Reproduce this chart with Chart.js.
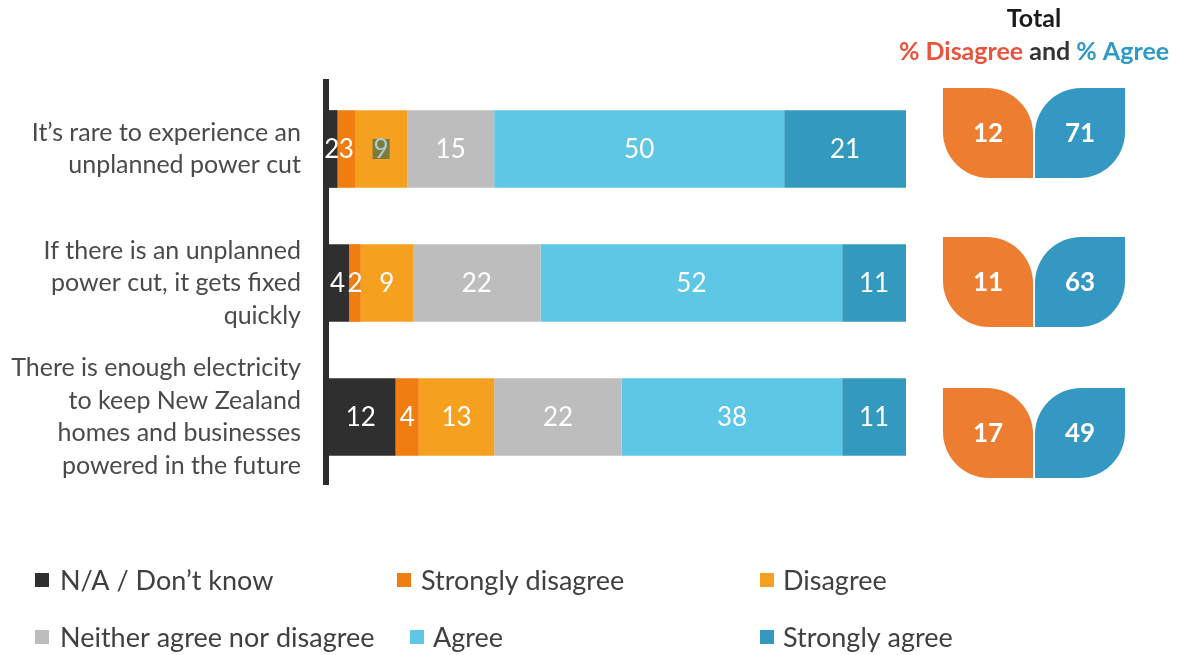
<!DOCTYPE html>
<html>
<head>
<meta charset="utf-8">
<title>Power supply attitudes</title>
<script src="https://cdn.jsdelivr.net/npm/chart.js@4.4.0/dist/chart.umd.min.js"></script>
<style>
    html, body { margin: 0; padding: 0; background: #ffffff; }
    #wrap { width: 1178px; height: 655px; }
</style>
</head>
<body>
<div id="wrap"><canvas id="myChart" width="1178" height="655"></canvas></div>
<script>
// statements (one per bar, already broken into lines)
var statements = [
    ["It\u2019s rare to experience an", "unplanned power cut"],
    ["If there is an unplanned", "power cut, it gets fixed", "quickly"],
    ["There is enough electricity", "to keep New Zealand", "homes and businesses", "powered in the future"]
];

// % of respondents per answer
var naDontKnow       = [2, 4, 12];
var stronglyDisagree = [3, 2, 4];
var disagree         = [9, 9, 13];
var neither          = [15, 22, 22];
var agree            = [50, 52, 38];
var stronglyAgree    = [21, 11, 11];

// totals shown in the leaves on the right
var totalDisagree = [12, 11, 17];
var totalAgree    = [71, 63, 49];

var FONT = "Lato";

// where each leaf pair sits relative to its bar
var leafShift = [-16, -1, 16];

// legend layout: one spot per dataset, in dataset order
var legendSpots = [
    { box: 35,  text: 60,  y: 580 },
    { box: 397, text: 421, y: 580 },
    { box: 760, text: 783, y: 580 },
    { box: 35,  text: 60,  y: 637 },
    { box: 410, text: 433, y: 637 },
    { box: 760, text: 783, y: 637 }
];

var barLabels = {
    id: 'barLabels',
    afterDatasetsDraw: function(chart) {
        var ctx = chart.ctx;
        ctx.save();
        ctx.font = '26px ' + FONT;
        ctx.textAlign = 'center';
        ctx.textBaseline = 'middle';
        chart.data.datasets.forEach(function(ds, di) {
            var meta = chart.getDatasetMeta(di);
            meta.data.forEach(function(bar, i) {
                var cx = (bar.x + bar.base) / 2;
                var txt = String(ds.data[i]);
                // the odd highlighted "9" on the first bar
                if (di === 2 && i === 0) {
                    var w = ctx.measureText(txt).width;
                    ctx.fillStyle = '#7d7a3c';
                    ctx.fillRect(cx - w / 2 - 1, bar.y - 10, w + 2, 20);
                    ctx.fillStyle = '#a9cbd3';
                } else {
                    ctx.fillStyle = '#ffffff';
                }
                ctx.fillText(txt, cx, bar.y + 1);
            });
        });
        ctx.restore();
    }
};

var totalsPanel = {
    id: 'totalsPanel',
    afterDraw: function(chart) {
        var ctx = chart.ctx;
        var area = chart.chartArea;
        var yScale = chart.scales.y;
        var midX = area.right + 128;
        ctx.save();

        // heading
        ctx.textBaseline = 'middle';
        ctx.font = 'bold 25px ' + FONT;
        ctx.textAlign = 'center';
        ctx.fillStyle = '#1a1a1a';
        ctx.fillText('Total', midX, 19);

        var parts = [
            { t: '% Disagree', c: '#e8553d' },
            { t: ' and ', c: '#333333' },
            { t: '% Agree', c: '#2f9ac6' }
        ];
        var full = 0;
        parts.forEach(function(p) { full += ctx.measureText(p.t).width; });
        var x = midX - full / 2;
        ctx.textAlign = 'left';
        parts.forEach(function(p) {
            ctx.fillStyle = p.c;
            ctx.fillText(p.t, x, 52);
            x += ctx.measureText(p.t).width;
        });

        // leaves
        var size = 90, r = 46;
        var leftX = area.right + 37;
        ctx.font = 'bold 26px ' + FONT;
        ctx.textAlign = 'center';
        totalDisagree.forEach(function(v, i) {
            var cy = yScale.getPixelForValue(i) + leafShift[i];
            var top = cy - size / 2;

            ctx.fillStyle = '#ed7d31';
            ctx.beginPath();
            ctx.roundRect(leftX, top, size, size, [0, r, 0, r]);
            ctx.fill();

            ctx.fillStyle = '#3598c3';
            ctx.beginPath();
            ctx.roundRect(leftX + size + 2, top, size, size, [r, 0, r, 0]);
            ctx.fill();

            ctx.fillStyle = '#ffffff';
            ctx.fillText(String(v), leftX + size / 2, cy + 1);
            ctx.fillText(String(totalAgree[i]), leftX + size + 2 + size / 2, cy + 1);
        });
        ctx.restore();
    }
};

var gridLegend = {
    id: 'gridLegend',
    afterDraw: function(chart) {
        var ctx = chart.ctx;
        ctx.save();
        ctx.font = '27px ' + FONT;
        ctx.textBaseline = 'middle';
        ctx.textAlign = 'left';
        chart.data.datasets.forEach(function(ds, di) {
            var spot = legendSpots[di];
            ctx.fillStyle = ds.backgroundColor;
            ctx.fillRect(spot.box, spot.y - 7, 14, 14);
            ctx.fillStyle = '#404040';
            ctx.fillText(ds.label, spot.text, spot.y + 1);
        });
        ctx.restore();
    }
};

function renderChart() {
    var ctx = document.getElementById('myChart').getContext('2d');

    var myChart = new Chart(ctx, {
        type: 'bar',
        data: {
            labels: statements,
            datasets: [
                { label: 'N/A / Don\u2019t know', data: naDontKnow, backgroundColor: '#2f2f2f' },
                { label: 'Strongly disagree', data: stronglyDisagree, backgroundColor: '#ef7d10' },
                { label: 'Disagree', data: disagree, backgroundColor: '#f5a11f' },
                { label: 'Neither agree nor disagree', data: neither, backgroundColor: '#bdbdbd' },
                { label: 'Agree', data: agree, backgroundColor: '#5dc7e5' },
                { label: 'Strongly agree', data: stronglyAgree, backgroundColor: '#3399bf' }
            ]
        },
        options: {
            indexAxis: 'y',
            responsive: false,
            animation: false,
            barPercentage: 0.58,
            categoryPercentage: 1.0,
            layout: {
                padding: { top: 82, right: 272, bottom: 171, left: 0 }
            },
            plugins: {
                legend: { display: false },
                tooltip: { enabled: false }
            },
            scales: {
                x: {
                    stacked: true,
                    min: 0,
                    max: 100,
                    display: false
                },
                y: {
                    stacked: true,
                    grid: { display: false, drawTicks: false },
                    border: { display: true, color: '#2d2d2d', width: 6 },
                    ticks: {
                        color: '#4a4a4a',
                        padding: 25,
                        font: { family: FONT, size: 25, lineHeight: '32.5px' }
                    },
                    afterFit: function(scale) {
                        scale.width = 326;
                        scale.paddingTop = 0;
                        scale.paddingBottom = 0;
                    }
                }
            }
        },
        plugins: [barLabels, totalsPanel, gridLegend]
    });
}

renderChart();
</script>
</body>
</html>
